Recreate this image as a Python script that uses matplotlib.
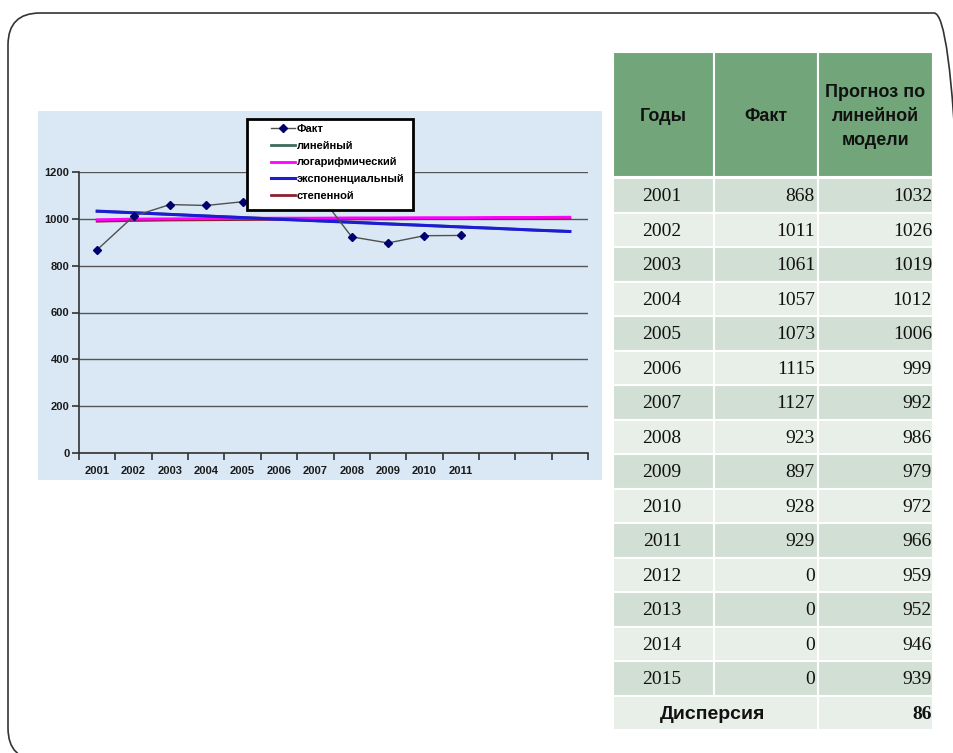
import matplotlib.pyplot as plt
from matplotlib.patches import Rectangle, FancyBboxPatch

W, H = 954, 753

# table data
table_years = ["2001", "2002", "2003", "2004", "2005", "2006", "2007", "2008",
               "2009", "2010", "2011", "2012", "2013", "2014", "2015"]
table_fact = [868, 1011, 1061, 1057, 1073, 1115, 1127, 923, 897, 928, 929, 0, 0, 0, 0]
table_forecast = [1032, 1026, 1019, 1012, 1006, 999, 992, 986, 979, 972, 966, 959, 952, 946, 939]
dispersion = 86

# chart data
chart_years = ["2001", "2002", "2003", "2004", "2005", "2006", "2007",
               "2008", "2009", "2010", "2011", "", "", ""]
fact = [868, 1011, 1061, 1057, 1073, 1115, 1127, 923, 897, 928, 929]
trend_linear = [1032, 1026, 1019, 1012, 1006, 999, 992, 986, 979, 972, 966, 959, 952, 946]
trend_log = [996, 999, 1000, 1001, 1002, 1003, 1003, 1004, 1004, 1005, 1005, 1006, 1006, 1007]
trend_exp = [1033, 1026, 1019, 1012, 1005, 998, 992, 985, 978, 972, 965, 959, 952, 946]
trend_power = [990, 993, 995, 996, 997, 998, 999, 1000, 1000, 1001, 1001, 1002, 1002, 1003]

fig = plt.figure(figsize=(W / 100, H / 100), dpi=100)
fig.patch.set_facecolor("white")

# rounded slide frame (pixel units, y going up)
fr = fig.add_axes([0, 0, 1, 1])
fr.set_xlim(0, W)
fr.set_ylim(0, H)
fr.axis("off")
fr.add_patch(FancyBboxPatch((8, H - 760), 958, 747,
                            boxstyle="round,pad=0,rounding_size=32",
                            fc="none", ec="#333333", lw=1.2))

# overlay in pixel coordinates (y going down) for chart background and table
bg = fig.add_axes([0, 0, 1, 1])
bg.set_xlim(0, W)
bg.set_ylim(H, 0)
bg.axis("off")
bg.add_patch(Rectangle((38, 111), 564, 369, fc="#DAE8F5", ec="none"))

# table
col_x = [613, 714, 818, 933]
head_top, head_h = 52, 125
row_top, row_h = 178, 34.5
head_color = "#72A67A"
dark_row = "#D2DFD4"
light_row = "#E8EFE9"
serif = "Liberation Serif"
sans = "Liberation Sans"

for c in range(3):
    bg.add_patch(Rectangle((col_x[c], head_top), col_x[c + 1] - col_x[c], head_h,
                           fc=head_color, ec="white", lw=1.5))
headers = ["Годы", "Факт", "Прогноз по\nлинейной\nмодели"]
for c, txt in enumerate(headers):
    bg.text((col_x[c] + col_x[c + 1]) / 2, head_top + head_h / 2 + 2, txt,
            ha="center", va="center", fontsize=13, fontweight="bold",
            family=sans, color="#111111", linespacing=1.55)

for i, yr in enumerate(table_years):
    y0 = row_top + i * row_h
    color = dark_row if i % 2 == 0 else light_row
    for c in range(3):
        bg.add_patch(Rectangle((col_x[c], y0), col_x[c + 1] - col_x[c], row_h,
                               fc=color, ec="white", lw=1.5))
    yc = y0 + row_h / 2 + 1.5
    bg.text(662, yc, yr, ha="center", va="center", fontsize=14, family=serif, color="#111111")
    bg.text(815, yc, str(table_fact[i]), ha="right", va="center", fontsize=14,
            family=serif, color="#111111")
    bg.text(932, yc, str(table_forecast[i]), ha="right", va="center", fontsize=14,
            family=serif, color="#111111")

y0 = row_top + len(table_years) * row_h
bg.add_patch(Rectangle((col_x[0], y0), col_x[2] - col_x[0], row_h,
                       fc=light_row, ec="white", lw=1.5))
bg.add_patch(Rectangle((col_x[2], y0), col_x[3] - col_x[2], row_h,
                       fc=light_row, ec="white", lw=1.5))
bg.text(713, y0 + row_h / 2 + 1.5, "Дисперсия", ha="center", va="center",
        fontsize=14, fontweight="bold", family=sans, color="#111111")
bg.text(932, y0 + row_h / 2 + 1.5, str(dispersion), ha="right", va="center",
        fontsize=14, fontweight="bold", family=serif, color="#111111")

# chart
ax = fig.add_axes([79 / W, 1 - 453 / H, (588 - 79) / W, (453 - 172) / H])
ax.set_facecolor("none")
x = list(range(len(chart_years)))

l_lin, = ax.plot(x, trend_linear, color="#3D6A5C", lw=2)
l_pow, = ax.plot(x, trend_power, color="#8E1F30", lw=2)
l_log, = ax.plot(x, trend_log, color="#FF00FF", lw=2)
l_exp, = ax.plot(x, trend_exp, color="#1C1CD6", lw=2.2)
l_fact, = ax.plot(x[:len(fact)], fact, color="#4F4F4F", lw=1, marker="D", ms=4.5,
                  mfc="#000070", mec="#000070")

ax.set_xlim(-0.5, len(chart_years) - 0.5)
ax.set_ylim(0, 1200)
ax.set_yticks(range(0, 1201, 200))
ax.set_xticks([i - 0.5 for i in range(len(chart_years) + 1)])
ax.set_xticklabels([])
ax.set_xticks(x, minor=True)
ax.set_xticklabels(chart_years, minor=True)
ax.tick_params(axis="x", which="major", direction="out", length=5, width=1.2, color="#333333")
ax.tick_params(axis="x", which="minor", length=0, pad=9)
ax.tick_params(axis="y", direction="out", length=5, width=1.2, color="#333333", pad=2)
for lab in ax.get_xticklabels(minor=True) + ax.get_yticklabels():
    lab.set_fontsize(8)
    lab.set_fontweight("bold")
    lab.set_family(sans)
    lab.set_color("#1A1A1A")

ax.grid(axis="y", color="#555555", lw=1)
ax.set_axisbelow(True)
for side in ["top", "right"]:
    ax.spines[side].set_visible(False)
for side in ["left", "bottom"]:
    ax.spines[side].set_color("#333333")
    ax.spines[side].set_linewidth(1.2)

# legend with a square black frame
ax.add_patch(Rectangle((247 / W, 1 - 210 / H), 166 / W, 91 / H, transform=fig.transFigure,
                       fc="white", ec="black", lw=2, zorder=15, clip_on=False))
leg = ax.legend([l_fact, l_lin, l_log, l_exp, l_pow],
                ["Факт", "линейный", "логарифмический", "экспоненциальный", "степенной"],
                loc="upper left", bbox_to_anchor=(264 / W, 1 - 117 / H),
                bbox_transform=fig.transFigure, frameon=False,
                prop=dict(family=sans, weight="bold", size=8),
                handlelength=2.2, handletextpad=0.15, labelspacing=0.62, borderpad=0.1)
leg.set_zorder(20)

fig.savefig("out.png", dpi=100)
